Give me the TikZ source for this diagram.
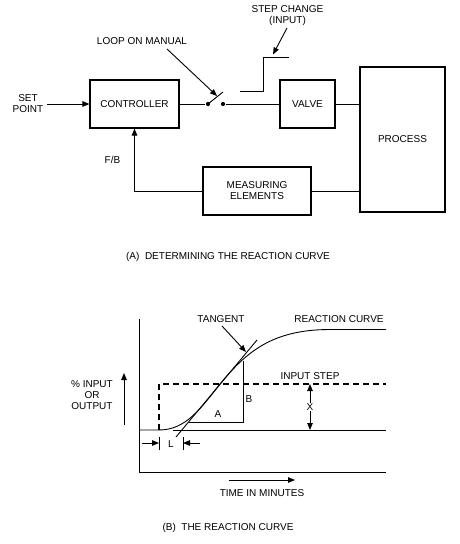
\documentclass[tikz,border=0pt]{standalone}
\usepackage{fontspec}
\setmainfont{Liberation Sans}
\usetikzlibrary{positioning}
\usetikzlibrary{arrows.meta}

\begin{document}
\begin{tikzpicture}[x=10pt, y=-10pt, line width=0.9pt,
        every node/.style={font=\fontsize{10}{11}\selectfont, align=center},
        blk/.style={draw, line width=1.1pt, inner sep=0pt},
        arr/.style={-{Triangle[length=7pt,width=5.5pt]}},
        dbl/.style={{Triangle[length=7pt,width=5.5pt]}-{Triangle[length=7pt,width=5.5pt]}},
        dot/.style={circle, fill, inner sep=0pt, minimum size=4.2pt}]

        \useasboundingbox (0,0) rectangle (46,54.4);

        % (A) loop
        \node[blk, minimum width=89pt, minimum height=48pt] (ctrl) at (13.45,10.4) {CONTROLLER};
        \node[blk, minimum width=55pt, minimum height=48pt] (valve) at (30.75,10.4) {VALVE};
        \node[blk, minimum width=85pt, minimum height=145pt] (proc) at (40.25,13.95) {PROCESS};
        \node[blk, minimum width=108pt, minimum height=48pt] (meas) at (25.7,19.1) {MEASURING\\ELEMENTS};
        \node (sp) at (2.8,10.4) {SET\\POINT};
        \node[dot] (swa) at (20.8,10.4) {};
        \node[dot] (swb) at (22.3,10.4) {};
        \coordinate (blade) at (22.3,9.2);

        \draw[arr] (sp.east) -- (ctrl.west);
        \draw (ctrl.east) -- (swa);
        \draw (swa.center) -- (blade);
        \draw (swb) -- (valve.west);
        \draw (valve.east) -- (valve.east -| proc.west);
        \draw (meas.east) -- (meas.east -| proc.west);
        \draw[arr] (meas.west) -| (ctrl.south);
        \node[left] (fb) at (12.4,16.0) {F/B};

        \node (manual) at (14.2,4.1) {LOOP ON MANUAL};
        \coordinate (manualtip) at (21.7,9.6);
        \draw[arr] (16.7,4.9) -- (manualtip);

        % step change symbol
        \draw (24,9.1) -- (26.3,9.1) -- (26.3,5.7) -- (28.9,5.7);
        \node (stepin) at (28.75,1.55) {STEP CHANGE\\(INPUT)};
        \coordinate (steptip) at (27.3,5.45);
        \draw[arr] (28.7,2.8) -- (steptip);

        \node (capa) at (22.8,25.7) {(A)\ \ DETERMINING THE REACTION CURVE};

        % (B) graph
        \draw (13.9,31.9) -- (13.9,47.2) -- (38.6,47.2);
        \draw (17.3,43) -- (38.6,43);
        \draw[dash pattern=on 6pt off 4pt, line width=1.6pt] (15.9,43) -- (15.9,38.4) -- (38.6,38.4);
        \draw (13.9,43) -- (15.9,43) .. controls (18.6,43) and (20.1,40.8) .. (22,38.4)
                .. controls (24.5,35.4) and (27,32.95) .. (33,32.95) -- (38.6,32.95);

        % tangent and slope triangle
        \draw (17.6,43.7) -- (25.7,34);
        \draw (18.85,42.2) -- (24.3,42.2) -- (24.3,36.05);
        \node at (21.8,41.4) {A};
        \node at (24.9,39.9) {B};
        \node (tangent) at (22.1,31.9) {TANGENT};
        \draw[arr] (22.2,32.6) -- (24.6,35.2);
        \node (reaction) at (33.9,31.9) {REACTION CURVE};
        \node (inputstep) at (31,37.6) {INPUT STEP};

        % X
        \draw[dbl] (31,38.4) -- (31,43);
        \node[fill=white, inner sep=0.5pt] at (31,40.7) {X};

        % L
        \draw (15.9,43.7) -- (15.9,45);
        \draw (18.3,43.7) -- (18.3,45);
        \draw[arr] (14.2,44.3) -- (15.9,44.3);
        \draw[arr] (20,44.3) -- (18.3,44.3);
        \node at (17.1,44.4) {L};

        % axis labels
        \node (ylab) at (9.2,39.5) {\%\ INPUT\\OR\\OUTPUT};
        \draw[arr] (12.4,42.5) -- (12.4,37.3);
        \draw[arr] (22.9,48) -- (29.5,48);
        \node (xlab) at (26.2,49.3) {TIME IN MINUTES};

        \node (capb) at (22.8,52.8) {(B)\ \ THE REACTION CURVE};
\end{tikzpicture}
\end{document}
